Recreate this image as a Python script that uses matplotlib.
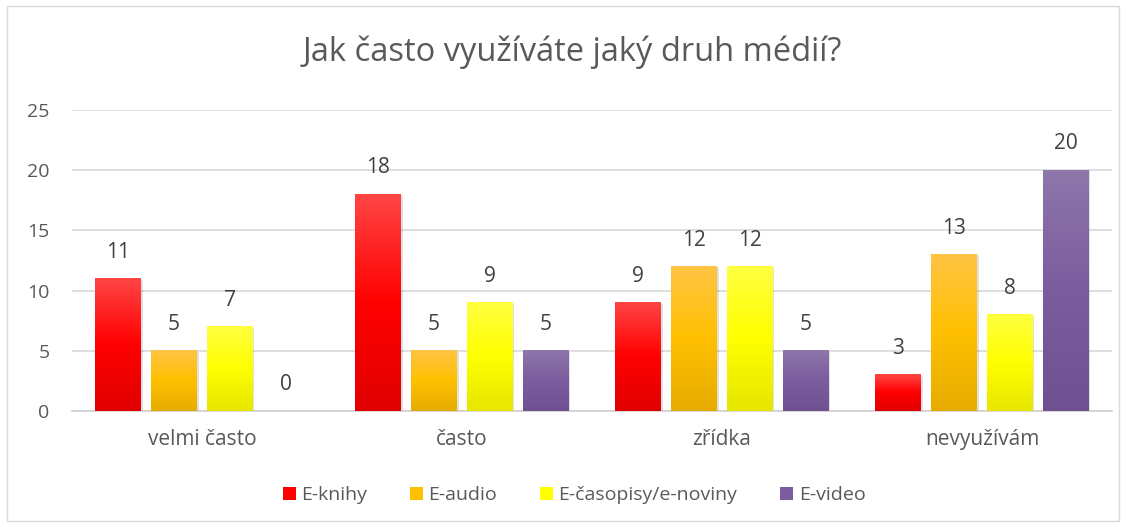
import matplotlib
matplotlib.use("Agg")
import matplotlib.pyplot as plt
import numpy as np
from matplotlib.colors import LinearSegmentedColormap
from matplotlib.patches import Patch, Rectangle

categories = ["velmi často", "často", "zřídka", "nevyužívám"]
series_names = ["E-knihy", "E-audio", "E-časopisy/e-noviny", "E-video"]
e_knihy = [11, 18, 9, 3]
e_audio = [5, 5, 12, 13]
e_casopisy = [7, 9, 12, 8]
e_video = [0, 5, 5, 20]
series_values = [e_knihy, e_audio, e_casopisy, e_video]
title = "Jak často využíváte jaký druh médií?"
yticks = [0, 5, 10, 15, 20, 25]

# gradient stops (top, middle, bottom)
gradients = [
    ["#FF4545", "#FF0000", "#E00000"],
    ["#FFC444", "#FFC000", "#E6AC00"],
    ["#FFFF40", "#FFFF00", "#E6E600"],
    ["#8E76AA", "#7B5C9E", "#6F5090"],
]
mid_colors = [g[1] for g in gradients]
grey_text = "#595959"

plt.rcParams['font.family'] = ['Open Sans', 'DejaVu Sans']

fig = plt.figure(figsize=(11.26, 5.27), dpi=100)
ax = fig.add_axes([0.0639, 0.2201, 0.9237, 0.5712])

x = np.arange(len(categories))
pitch = 0.2146
width = 0.176
nser = len(series_values)

for i, (vals, grad) in enumerate(zip(series_values, gradients)):
    offs = (i - (nser - 1) / 2) * pitch
    bars = ax.bar(x + offs, vals, width, color="none", edgecolor="none", zorder=3)
    cmap = LinearSegmentedColormap.from_list("g%d" % i, grad[::-1])
    grad_img = np.linspace(0, 1, 256).reshape(-1, 1)
    for b, v in zip(bars, vals):
        if v > 0:
            x0 = b.get_x(); w = b.get_width(); h = b.get_height()
            ax.add_patch(Rectangle((x0 + 0.006, 0), w, h - 0.08, facecolor="#000000",
                                   alpha=0.12, edgecolor="none", zorder=2))
            ax.imshow(grad_img, extent=(x0, x0 + w, 0, h), origin="lower",
                      cmap=cmap, aspect="auto", zorder=3, interpolation="bilinear")
        ax.annotate(str(v), (b.get_x() + b.get_width() / 2, v), xytext=(0, 19),
                    textcoords="offset points", ha="center", va="center",
                    fontsize=15, color="#404040", zorder=4)

ax.set_xlim(-0.5, len(categories) - 0.5)
ax.set_ylim(0, 25)
ax.set_yticks(yticks)
ax.set_xticks(x)
ax.set_xticklabels(categories)
ax.tick_params(axis="both", length=0, labelcolor=grey_text)
ax.tick_params(axis="x", pad=13, labelsize=15)
ax.tick_params(axis="y", pad=16, labelsize=14)
ax.grid(axis="y", color="#D9D9D9", linewidth=1.2, zorder=0)
ax.set_axisbelow(True)
for s in ["top", "right", "left"]:
    ax.spines[s].set_visible(False)
ax.spines["bottom"].set_color("#D0D0D0")
ax.spines["bottom"].set_linewidth(1.2)

fig.text(0.508, 0.901, title, ha="center", va="center", fontsize=23.5, color=grey_text)

handles = [Patch(facecolor=c, edgecolor="none") for c in mid_colors]
fig.legend(handles, series_names, loc="center", bbox_to_anchor=(0.51, 0.061), ncol=4,
           frameon=False, fontsize=14, handlelength=0.65, handleheight=0.65,
           handletextpad=0.3, columnspacing=2.2, labelcolor=grey_text)

fig.add_artist(Rectangle((0.006, 0.012), 0.988, 0.976, transform=fig.transFigure,
                         fill=False, edgecolor="#D9D9D9", linewidth=1))

fig.savefig("out.png", dpi=100)
